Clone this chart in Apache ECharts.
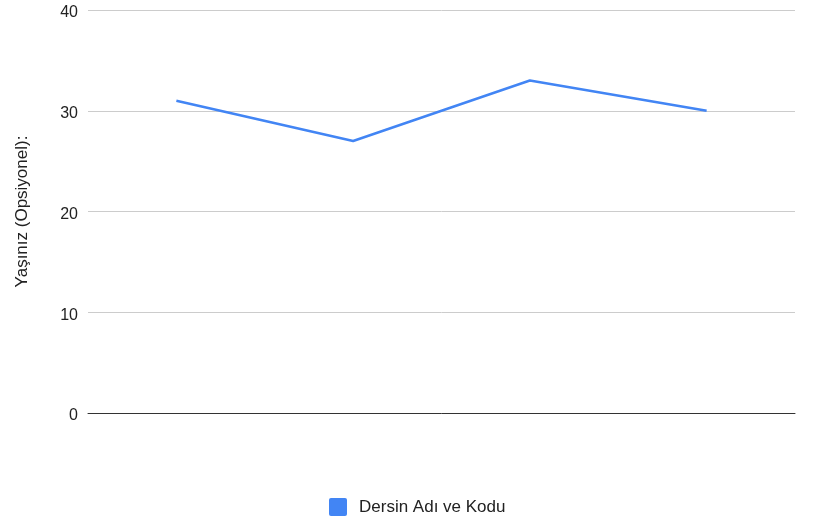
<!DOCTYPE html>
<html>
<head>
<meta charset="utf-8">
<script src="https://cdn.jsdelivr.net/npm/echarts@6/dist/echarts.min.js"></script>
<style>html,body{margin:0;padding:0;background:#fff;}#c{width:816px;height:529px;}</style>
</head>
<body>
<div id="c"></div>
<script>
const categories = ["1", "2", "3", "4"];
const seriesName = "Dersin Adı ve Kodu";
const values = [31, 27, 33, 30];
const yAxisTitle = "Yaşınız (Opsiyonel):";

const FONT = '"Liberation Sans", Arial, sans-serif';
const chart = echarts.init(document.getElementById('c'), null, {renderer: 'canvas'});
chart.setOption({
  animation: false,
  backgroundColor: '#ffffff',
  textStyle: {fontFamily: FONT},
  grid: {left: 88, right: 21, top: 10, bottom: 116, containLabel: false, outerBoundsMode: 'none'},
  legend: {
    bottom: 8, left: 324,
    itemWidth: 18, itemHeight: 18, itemGap: 10,
    textStyle: {fontSize: 17, color: '#222', fontFamily: FONT, padding: [0, 0, 0, 7]},
    data: [{name: seriesName, icon: 'path://M2,0 L16,0 Q18,0 18,2 L18,16 Q18,18 16,18 L2,18 Q0,18 0,16 L0,2 Q0,0 2,0 Z'}]
  },
  xAxis: {
    type: 'category', data: categories, boundaryGap: true,
    axisLine: {show: true, lineStyle: {color: '#333', width: 1}},
    axisTick: {show: false}, axisLabel: {show: false}
  },
  yAxis: {
    type: 'value', min: 0, max: 40, interval: 10,
    name: yAxisTitle, nameLocation: 'middle', nameGap: 57, nameRotate: 90,
    nameTextStyle: {fontSize: 17, color: '#222', fontFamily: FONT},
    axisLine: {show: false}, axisTick: {show: false},
    axisLabel: {fontSize: 16, color: '#222', margin: 10, fontFamily: FONT, verticalAlign: 'top', lineHeight: 6},
    splitLine: {lineStyle: {color: '#cccccc', width: 1}}
  },
  series: [{
    name: seriesName, type: 'line', data: values,
    symbol: 'none', smooth: false,
    lineStyle: {color: '#4285F4', width: 2.5},
    itemStyle: {color: '#4285F4'}
  }]
});
</script>
</body>
</html>
